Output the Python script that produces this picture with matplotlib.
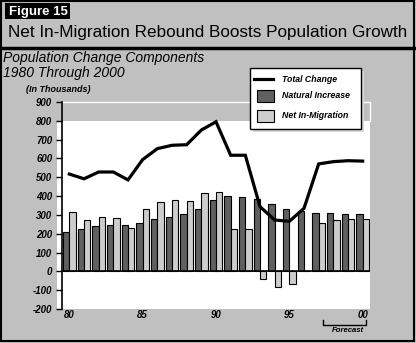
import matplotlib.pyplot as plt
from matplotlib.patches import Rectangle
from matplotlib.lines import Line2D

# values in thousands
years = list(range(1980, 2001))
natural_increase = [210, 225, 240, 245, 245, 255, 277, 287, 303, 330,
                    379, 399, 393, 385, 356, 330, 319, 308, 308, 303, 303]
net_migration = [315, 272, 287, 282, 229, 330, 367, 379, 372, 415,
                 420, 223, 223, -42, -85, -69, 0, 255, 271, 277, 280]
total_change = [517, 492, 528, 528, 486, 594, 652, 670, 673, 751,
                795, 617, 617, 344, 273, 266, 335, 571, 583, 588, 586]
tick_years = [1980, 1985, 1990, 1995, 2000]
tick_labels = ['80', '85', '90', '95', '00']
y_ticks = list(range(-200, 1000, 100))

W, H = 416, 343
GRAY = '#c0c0c0'
DARK = '#606060'
LIGHT = '#cdcdcd'
FONT = 'Liberation Sans'

fig = plt.figure(figsize=(W / 100, H / 100), dpi=100, facecolor=GRAY)


def px(x, y):
    # pixel coords (from top-left) -> figure fraction
    return x / W, 1 - y / H


def frect(x0, y0, x1, y1, **kw):
    fig.patches.append(Rectangle((x0 / W, 1 - y1 / H), (x1 - x0) / W, (y1 - y0) / H,
                                 transform=fig.transFigure, **kw))


def fline(xs, ys, **kw):
    fig.lines.append(Line2D([x / W for x in xs], [1 - y / H for y in ys],
                            transform=fig.transFigure, **kw))


# header
frect(5, 3, 70, 19, facecolor='black', edgecolor='none')
fig.text(*px(9, 11.5), 'Figure 15', color='white', fontsize=9.5, fontweight='bold',
         family=FONT, va='center', ha='left')
fig.text(*px(8, 33), 'Net In-Migration Rebound Boosts Population Growth',
         fontsize=12.3, family=FONT, va='center', ha='left')
fline([0, W], [47.5, 47.5], color='black', lw=2.5)
fig.text(*px(3, 58), 'Population Change Components', fontsize=10, family=FONT,
         style='italic', va='center', ha='left')
fig.text(*px(3, 73), '1980 Through 2000', fontsize=10, family=FONT,
         style='italic', va='center', ha='left')
fig.text(*px(26, 89), '(In Thousands)', fontsize=6.5, family=FONT, style='italic',
         fontweight='bold', va='center', ha='left')

# white plotting background (gray band above 800)
frect(57, 121, 370, 309, facecolor='white', edgecolor='none', zorder=0)
fline([62, 370], [102, 102], color='white', lw=1, zorder=0)
fline([370, 370], [102, 121], color='white', lw=1, zorder=0)

ax = fig.add_axes([62 / W, 1 - 309 / H, 308 / W, 207 / H])
ax.set_zorder(1)
ax.set_facecolor('none')
bw = 0.44
ax.bar([y - bw for y in years], natural_increase, width=bw, align='edge',
       color=DARK, edgecolor='black', linewidth=0.8, zorder=2)
ax.bar(years, net_migration, width=bw, align='edge',
       color=LIGHT, edgecolor='black', linewidth=0.8, zorder=2)
ax.plot(years, total_change, color='black', lw=2.3, zorder=3, solid_joinstyle='miter')
ax.axhline(0, color='black', lw=1.2, zorder=2.5)

ax.set_xlim(1979.5, 2000.5)
ax.set_ylim(-200, 900)
ax.set_yticks(y_ticks)
ax.set_yticklabels([str(v) for v in y_ticks], fontsize=7, fontweight='bold',
                   style='italic', family=FONT)
ax.set_xticks(tick_years)
ax.set_xticklabels(tick_labels, fontsize=7, fontweight='bold', style='italic',
                   family=FONT)
ax.tick_params(axis='x', length=0, pad=1)
ax.tick_params(axis='y', length=4, width=1, pad=3)
for s in ['top', 'right', 'bottom']:
    ax.spines[s].set_visible(False)
ax.spines['left'].set_linewidth(1.2)

# legend (drawn by hand)
frect(253, 71, 364, 132, facecolor='#d8d8d8', edgecolor='none', zorder=4)
frect(250, 68, 361, 129, facecolor='white', edgecolor='black', lw=1, zorder=5)
fline([254, 273], [79, 79], color='black', lw=2.3, zorder=6)
frect(257, 90, 274, 102, facecolor=DARK, edgecolor='black', lw=0.8, zorder=6)
frect(257, 110, 274, 122, facecolor=LIGHT, edgecolor='black', lw=0.8, zorder=6)
for yy, lab in [(79, 'Total Change'), (96, 'Natural Increase'), (116, 'Net In-Migration')]:
    fig.text(*px(282, yy), lab, fontsize=6.3, fontweight='bold', style='italic',
             family=FONT, va='center', ha='left', zorder=7)

# forecast bracket
fline([323, 323, 366, 366], [320, 325, 325, 320], color='black', lw=1)
fig.text(*px(348, 331), 'Forecast', fontsize=5.6, fontweight='bold', style='italic',
         family=FONT, va='center', ha='center')

# outer border
frect(1, 1, W - 2, H - 2, facecolor='none', edgecolor='black', lw=1.5, zorder=10)

fig.savefig('out.png', dpi=100, facecolor=GRAY)
